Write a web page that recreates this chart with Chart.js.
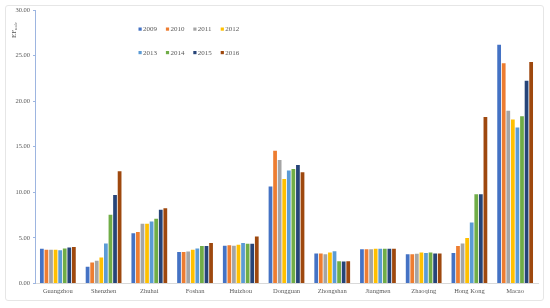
<!DOCTYPE html>
<html>
<head>
<meta charset="utf-8">
<script src="https://cdn.jsdelivr.net/npm/chart.js@4.4.1/dist/chart.umd.min.js"></script>
<style>
    html, body { margin: 0; padding: 0; background: #fff; }
    #wrap { position: relative; width: 550px; height: 308px; }
    #frame {
        position: absolute; left: 5px; top: 5px; width: 539px; height: 296px;
        border: 1px solid #e6e6e6; border-radius: 3px; box-sizing: border-box;
    }
    canvas { position: absolute; left: 0; top: 0; }
</style>
</head>
<body>
<div id="wrap">
    <div id="frame"></div>
    <canvas id="chart" width="550" height="308"></canvas>
</div>
<script>
// Data
const cities = ['Guangzhou', 'Shenzhen', 'Zhuhai', 'Foshan', 'Huizhou', 'Dongguan',
    'Zhongshan', 'Jiangmen', 'Zhaoqing', 'Hong Kong', 'Macao'];
const years = ['2009', '2010', '2011', '2012', '2013', '2014', '2015', '2016'];
const colors = ['#4472C4', '#ED7D31', '#A5A5A5', '#FFC000', '#5B9BD5', '#70AD47', '#264478', '#9E480E'];

// one array per year, in city order
const ef2009 = [3.80, 1.85, 5.50, 3.45, 4.15, 10.65, 3.30, 3.75, 3.20, 3.35, 26.20];
const ef2010 = [3.70, 2.30, 5.65, 3.45, 4.20, 14.55, 3.30, 3.75, 3.20, 4.10, 24.15];
const ef2011 = [3.70, 2.50, 6.55, 3.50, 4.15, 13.55, 3.20, 3.75, 3.25, 4.40, 18.95];
const ef2012 = [3.70, 2.85, 6.55, 3.70, 4.25, 11.45, 3.40, 3.80, 3.40, 5.00, 18.00];
const ef2013 = [3.65, 4.40, 6.80, 3.85, 4.45, 12.40, 3.55, 3.80, 3.35, 6.70, 17.10];
const ef2014 = [3.85, 7.55, 7.10, 4.10, 4.35, 12.55, 2.45, 3.80, 3.40, 9.80, 18.35];
const ef2015 = [3.95, 9.70, 8.10, 4.10, 4.35, 13.00, 2.40, 3.80, 3.30, 9.80, 22.25];
const ef2016 = [4.00, 12.30, 8.25, 4.45, 5.15, 12.20, 2.45, 3.80, 3.30, 18.25, 24.30];
const series = [ef2009, ef2010, ef2011, ef2012, ef2013, ef2014, ef2015, ef2016];

const yTicks = [0, 5, 10, 15, 20, 25, 30];

const FONT = '"Liberation Serif", "Times New Roman", serif';
const TEXT = '#595959';

// legend drawn inside the plot, two rows of four
const legendInside = {
    id: 'legendInside',
    afterDraw(chart) {
        const c = chart.ctx;
        c.save();
        c.font = `7px ${FONT}`;
        c.textBaseline = 'middle';
        chart.data.datasets.forEach((ds, i) => {
            const col = i % 4, row = Math.floor(i / 4);
            const x = 140 + col * 27.4;
            const y = 29 + row * 23.5;
            c.fillStyle = ds.backgroundColor;
            c.fillRect(x - 1.5, y - 1.5, 3.2, 3.2);
            c.fillStyle = TEXT;
            c.fillText(ds.label, x + 3, y + 0.5);
        });
        // y axis title: EF with subscript
        c.translate(14, 38);
        c.rotate(-Math.PI / 2);
        c.font = `7px ${FONT}`;
        c.fillStyle = TEXT;
        c.textBaseline = 'middle';
        c.fillText('EF', 0, 0);
        c.font = `4px ${FONT}`;
        c.fillText('scale', c.measureText('EF').width + 3, 2);
        c.restore();
    }
};

new Chart(document.getElementById('chart'), {
    type: 'bar',
    data: {
        labels: cities,
        datasets: series.map((vals, i) => ({
            label: years[i],
            data: vals,
            backgroundColor: colors[i],
            borderWidth: 0,
            categoryPercentage: 0.8,
            barPercentage: 0.82
        }))
    },
    options: {
        responsive: false,
        animation: false,
        layout: { padding: { top: 10, right: 12, bottom: 0, left: 0 } },
        plugins: {
            legend: { display: false },
            tooltip: { enabled: false }
        },
        scales: {
            x: {
                grid: { display: false, tickLength: 0 },
                border: { color: '#d9d9d9', width: 1 },
                ticks: { color: TEXT, font: { family: FONT, size: 6.5 }, padding: 4, maxRotation: 0, autoSkip: false },
                afterFit(scale) { scale.height = 24.5; }
            },
            y: {
                min: 0,
                max: 30,
                afterBuildTicks(scale) { scale.ticks = yTicks.map(v => ({ value: v })); },
                grid: { drawOnChartArea: false, tickLength: 2, color: '#9db5e0' },
                border: { color: '#9db5e0', width: 1 },
                ticks: {
                    color: TEXT,
                    font: { family: FONT, size: 6.5 },
                    padding: 3,
                    callback: v => Number(v).toFixed(2)
                },
                afterFit(scale) { scale.width = 35; }
            }
        }
    },
    plugins: [legendInside]
});
</script>
</body>
</html>
